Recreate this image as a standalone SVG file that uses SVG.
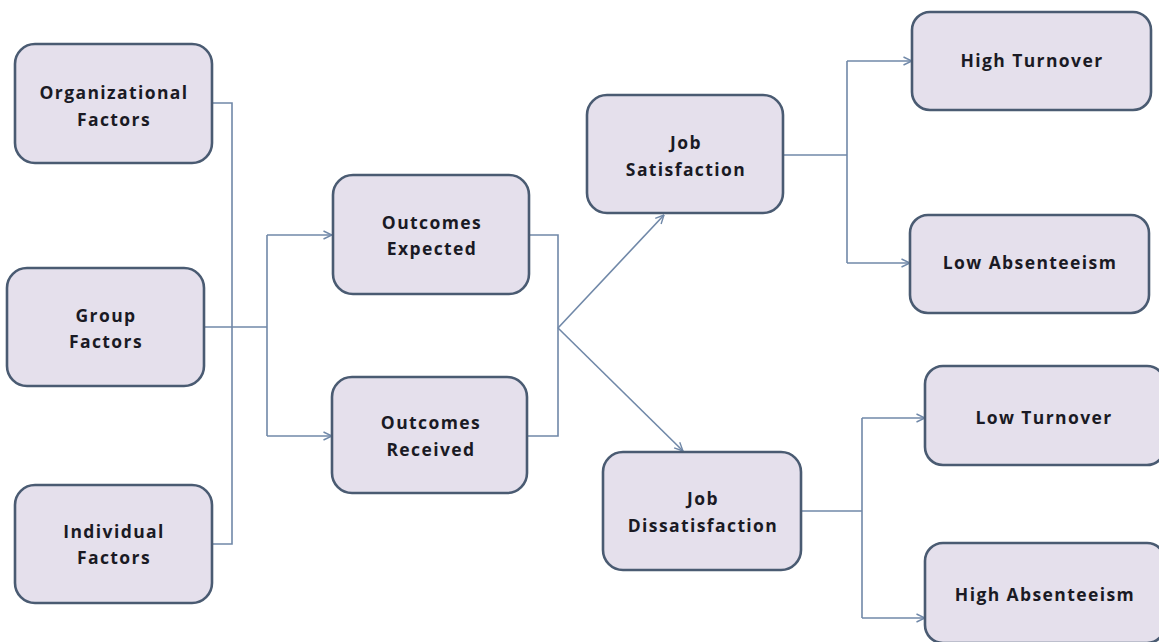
<svg xmlns="http://www.w3.org/2000/svg" width="1159" height="642" viewBox="0 0 1159 642">
<style>
.box{fill:#E5E0EC;stroke:#4A5B72;stroke-width:2.6}
.t{font-family:"Open Sans","Liberation Sans",sans-serif;font-weight:bold;font-size:17.5px;fill:#1A1A24;text-anchor:middle;letter-spacing:1.4px}
.c{fill:none;stroke:#7088A8;stroke-width:1.6}
</style>
<defs>
<marker id="arr" viewBox="0 0 10 10" refX="9.5" refY="5" markerWidth="10" markerHeight="10" markerUnits="userSpaceOnUse" orient="auto">
<path d="M1,1 L9.5,5 L1,9" fill="none" stroke="#7088A8" stroke-width="1.4"/>
</marker>
</defs>
<rect width="1159" height="642" fill="#FFFFFF"/>
<g id="connectors">
<path class="c" d="M212,103 H232 V544 H212"/>
<path class="c" d="M204,327 H267"/>
<path class="c" d="M267,235 V436" />
<path class="c" d="M267,235 H332" marker-end="url(#arr)"/>
<path class="c" d="M267,436 H332" marker-end="url(#arr)"/>
<path class="c" d="M529,235 H558 V436 H527"/>
<path class="c" d="M558,328 L664,215" marker-end="url(#arr)"/>
<path class="c" d="M558,328 L683,451" marker-end="url(#arr)"/>
<path class="c" d="M783,155 H847"/>
<path class="c" d="M847,61 V263"/>
<path class="c" d="M847,61 H912" marker-end="url(#arr)"/>
<path class="c" d="M847,263 H910" marker-end="url(#arr)"/>
<path class="c" d="M801,511 H862"/>
<path class="c" d="M862,418 V618"/>
<path class="c" d="M862,418 H925" marker-end="url(#arr)"/>
<path class="c" d="M862,618 H925" marker-end="url(#arr)"/>
</g>
<g id="org">
<rect class="box" x="15" y="44" width="197" height="119" rx="20"/>
<text class="t" x="114" y="99">Organizational</text>
<text class="t" x="114" y="126">Factors</text>
</g>
<g id="group">
<rect class="box" x="7" y="268" width="197" height="118" rx="20"/>
<text class="t" x="106" y="322">Group</text>
<text class="t" x="106" y="348">Factors</text>
</g>
<g id="individual">
<rect class="box" x="15" y="485" width="197" height="118" rx="20"/>
<text class="t" x="114" y="538">Individual</text>
<text class="t" x="114" y="564">Factors</text>
</g>
<g id="expected">
<rect class="box" x="333" y="175" width="196" height="119" rx="20"/>
<text class="t" x="432" y="229">Outcomes</text>
<text class="t" x="432" y="255">Expected</text>
</g>
<g id="received">
<rect class="box" x="332" y="377" width="195" height="116" rx="20"/>
<text class="t" x="431" y="429">Outcomes</text>
<text class="t" x="431" y="456">Received</text>
</g>
<g id="satisfaction">
<rect class="box" x="587" y="95" width="196" height="118" rx="20"/>
<text class="t" x="686" y="149">Job</text>
<text class="t" x="686" y="176">Satisfaction</text>
</g>
<g id="dissatisfaction">
<rect class="box" x="603" y="452" width="198" height="118" rx="20"/>
<text class="t" x="703" y="505">Job</text>
<text class="t" x="703" y="532">Dissatisfaction</text>
</g>
<g id="highturnover">
<rect class="box" x="912" y="12" width="239" height="98" rx="18"/>
<text class="t" x="1032" y="67">High Turnover</text>
</g>
<g id="lowabsenteeism">
<rect class="box" x="910" y="215" width="239" height="98" rx="18"/>
<text class="t" x="1030" y="269">Low Absenteeism</text>
</g>
<g id="lowturnover">
<rect class="box" x="925" y="366" width="240" height="99" rx="18"/>
<text class="t" x="1044" y="424">Low Turnover</text>
</g>
<g id="highabsenteeism">
<rect class="box" x="925" y="543" width="240" height="100" rx="18"/>
<text class="t" x="1045" y="601">High Absenteeism</text>
</g>
</svg>
